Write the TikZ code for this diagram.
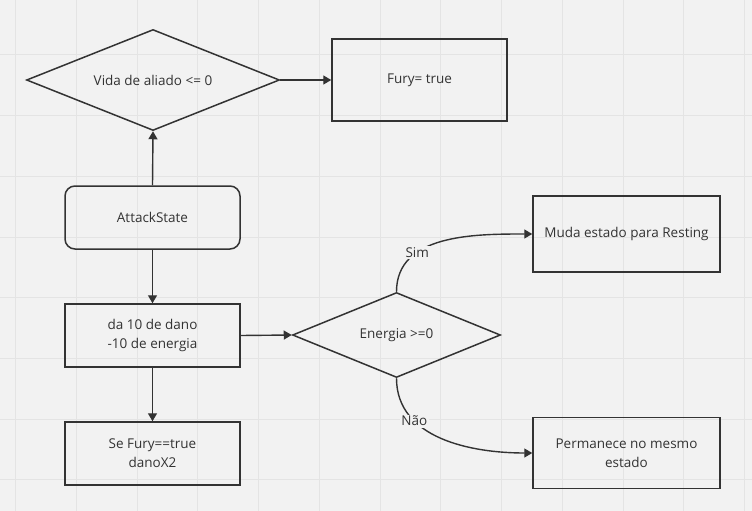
\documentclass[tikz,border=0pt]{standalone}
\usepackage{fontspec}
\setmainfont{Open Sans}
\usetikzlibrary{shapes.geometric,arrows.meta}
\definecolor{bg}{HTML}{F2F2F2}
\definecolor{gridc}{HTML}{E4E4E4}
\definecolor{ink}{HTML}{333333}
\tikzset{
  box/.style={draw=ink,line width=1.5pt,rectangle,inner sep=0pt,align=center,text=ink,font=\fontsize{13.5}{19}\selectfont},
  rbox/.style={box,rounded corners=10pt},
  dec/.style={draw=ink,line width=1.5pt,diamond,aspect=2.5,inner sep=0pt,align=center,text=ink,font=\fontsize{13.5}{19}\selectfont},
  conn/.style={draw=ink,line width=1.4pt,-{Triangle[length=8pt,width=9pt]}},
  lbl/.style={fill=bg,text=ink,inner sep=1.5pt,font=\fontsize{13.5}{15}\selectfont}
}
\begin{document}
\begin{tikzpicture}[x=1pt,y=-1pt]
\useasboundingbox (0,0) rectangle (752,511);
\fill[bg] (0,0) rectangle (752,511);
\foreach \k in {0,...,12} \draw[gridc,line width=1pt] ({15.7+60.75*\k},0) -- ({15.7+60.75*\k},511);
\foreach \k in {1,...,8} \draw[gridc,line width=1pt] (0,{-5.7+60.7*\k}) -- (752,{-5.7+60.7*\k});

\node[dec,minimum width=253pt,minimum height=101pt] (d1) at (153,80) {Vida de aliado <= 0};
\node[box,minimum width=175pt,minimum height=82pt] (fury) at (419.5,80) {Fury= true};
\node[rbox,minimum width=175pt,minimum height=63pt] (att) at (152.5,217.5) {AttackState};
\node[box,minimum width=175pt,minimum height=63pt] (dano) at (152.5,335.5) {da 10 de dano\\-10 de energia};
\node[box,minimum width=175pt,minimum height=63pt] (sefury) at (152.5,453.5) {Se Fury==true\\danoX2};
\node[dec,minimum width=208pt,minimum height=85pt] (d2) at (396.5,335) {Energia >=0};
\node[box,minimum width=187pt,minimum height=76pt] (muda) at (626.5,234) {Muda estado para Resting};
\node[box,minimum width=187pt,minimum height=71pt] (perm) at (626.5,453) {Permanece no mesmo\\estado};

\draw[conn] (att.north) -- (d1.south);
\draw[conn] (d1.east) -- (fury.west);
\draw[conn] (att.south) -- (dano.north);
\draw[conn] (dano.south) -- (sefury.north);
\draw[conn] (dano.east) -- (d2.west);
\draw[conn] (d2.north) to[out=90,in=180] node[lbl,pos=0.32] {Sim} (muda.west);
\draw[conn] (d2.south) to[out=-90,in=180] node[lbl,pos=0.3] {Não} (perm.west);
\end{tikzpicture}
\end{document}
